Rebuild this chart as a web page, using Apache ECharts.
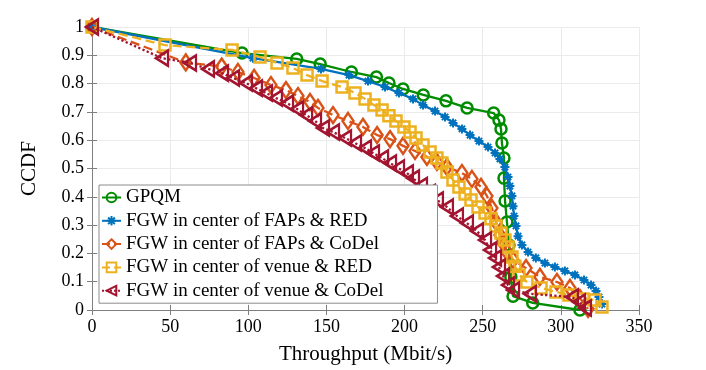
<!DOCTYPE html>
<html><head><meta charset="utf-8">
<script src="https://cdn.jsdelivr.net/npm/echarts@6/dist/echarts.min.js"></script>
<style>html,body{margin:0;padding:0;background:#fff}#c{width:706px;height:370px}</style>
</head><body><div id="c"></div>
<script>
const seriesNames = ['GPQM','FGW in center of FAPs & RED','FGW in center of FAPs & CoDel','FGW in center of venue & RED','FGW in center of venue & CoDel'];
const xTicks = [0,50,100,150,200,250,300,350];
const yTicks = [0,0.1,0.2,0.3,0.4,0.5,0.6,0.7,0.8,0.9,1];

const gpqm = [[0,1],[96,0.908],[131,0.887],[146,0.869],[166,0.841],[182,0.823],[190,0.802],[199,0.781],[212,0.760],[226.5,0.739],[240,0.714],[257,0.696],[260.4,0.671],[261.7,0.640],[262.3,0.590],[263.6,0.537],[263.6,0.466],[264.3,0.385],[265.5,0.311],[266.8,0.230],[268,0.117],[269.4,0.049],[282,0.025],[312.2,0.0]];

const fapsRed = [[0,1],[103,0.890],[146.5,0.852],[164.4,0.830],[176.6,0.809],[187.5,0.788],[196.4,0.767],[205.4,0.746],[211.8,0.724],[219.5,0.703],[225.9,0.682],[231,0.661],[236.7,0.640],[241.9,0.618],[247.6,0.597],[253.4,0.576],[257.9,0.555],[261,0.534],[264.2,0.505],[266.2,0.470],[267.4,0.438],[268.7,0.403],[269.4,0.367],[270,0.332],[271.3,0.297],[272.6,0.261],[275.1,0.230],[279,0.205],[284,0.184],[289.8,0.166],[296.2,0.152],[302.6,0.138],[309,0.124],[314.8,0.106],[319.3,0.088],[322.5,0.067],[324.4,0.046],[326.3,0.021]];

const fapsCodel = [[0,1],[60,0.875],[83,0.860],[93.4,0.841],[103.7,0.820],[114.5,0.795],[124.1,0.777],[131.8,0.756],[139.5,0.735],[144.6,0.714],[154.2,0.689],[163.8,0.668],[173.4,0.647],[182.4,0.618],[190.7,0.604],[199,0.580],[206.7,0.562],[214.3,0.541],[220.7,0.523],[227.1,0.505],[236.7,0.484],[243.1,0.463],[248.9,0.435],[252.7,0.403],[255.9,0.360],[258.5,0.311],[261,0.265],[263,0.237],[265.5,0.205],[269.4,0.177],[277.7,0.148],[286.6,0.117],[297.5,0.099],[305.8,0.078],[312.2,0.042],[317.4,0.004]];

const venueRed = [[0,1],[46.7,0.936],[89.6,0.919],[107.5,0.894],[118.4,0.873],[128.6,0.855],[137.6,0.830],[147.2,0.809],[160,0.788],[168.3,0.767],[174.7,0.746],[180.4,0.724],[185.6,0.707],[190,0.686],[194.5,0.668],[199.6,0.647],[203.5,0.629],[207.3,0.608],[211.8,0.583],[216.3,0.558],[220.7,0.537],[223.9,0.519],[227.1,0.488],[231,0.459],[234.8,0.435],[238.7,0.410],[242.5,0.389],[247,0.364],[251.5,0.343],[255.3,0.322],[258.5,0.297],[261.7,0.272],[264.2,0.247],[266.2,0.223],[268.7,0.187],[270.6,0.155],[273.2,0.124],[278.3,0.099],[287.3,0.078],[296.9,0.064],[305.2,0.053],[314.2,0.039],[321.8,0.035],[326.3,0.011]];

const venueCodel = [[0,1],[44.8,0.890],[62.7,0.873],[74.2,0.852],[83.2,0.837],[90.2,0.820],[98.5,0.802],[104.9,0.784],[111.3,0.767],[117.7,0.749],[124.8,0.731],[131.2,0.710],[137,0.689],[142.7,0.668],[147.8,0.643],[154.2,0.629],[161.9,0.608],[168.3,0.590],[174.7,0.572],[179.8,0.555],[185.6,0.537],[190.7,0.519],[195.8,0.502],[201.5,0.484],[205.4,0.466],[210.5,0.440],[215.6,0.415],[220.7,0.389],[227.1,0.364],[233.5,0.332],[239.9,0.307],[246.3,0.279],[251.5,0.247],[254.7,0.212],[257.9,0.184],[260.4,0.152],[263,0.120],[266.2,0.088],[269.4,0.071],[280.2,0.057],[307.1,0.046],[311.6,0.028],[315.4,0.007]];

const colors = ['#008C00','#0072BD','#D95319','#EDB120','#A2142F'];
const FONT = '"Liberation Serif","Times New Roman",serif';
const asterisk = 'path://M0,5L10,5M5,0L5,10M1.5,1.5L8.5,8.5M1.5,8.5L8.5,1.5';

function mk(i, data, symbol, size, lineType, extra) {
  return Object.assign({
    name: seriesNames[i], type: 'line', data: data,
    symbol: symbol, symbolSize: size, showAllSymbol: true,
    lineStyle: {color: colors[i], width: 2.3, type: lineType},
    itemStyle: {color: 'rgba(255,255,255,0)', borderColor: colors[i], borderWidth: 2.5},
    emphasis: {disabled: true}, animation: false, z: 2 + i
  }, extra || {});
}

const chart = echarts.init(document.getElementById('c'), null, {renderer: 'canvas'});
const axisCommon = {
  min: 0, axisLine: {show: true, lineStyle: {color: '#7f7f7f', width: 1}},
  axisTick: {show: true, inside: true, length: 5, lineStyle: {color: '#7f7f7f'}},
};
chart.setOption({
  animation: false,
  backgroundColor: '#fff',
  grid: {left: 92, right: 67, top: 27, bottom: 60, show: false},
  legend: {
    orient: 'vertical', left: 99, top: 185,
    data: seriesNames,
    itemWidth: 19, itemHeight: 12, itemGap: 2.3,
    padding: [2, 54, 2, 2],
    backgroundColor: '#fff', borderColor: '#8c8c8c', borderWidth: 1,
    textStyle: {fontFamily: FONT, fontSize: 19, color: '#000', lineHeight: 21},
    z: 20
  },
  xAxis: [
    Object.assign({}, axisCommon, {type: 'value', max: 350, interval: 50, position: 'bottom',
      name: 'Throughput (Mbit/s)', nameLocation: 'middle', nameGap: 34,
      nameTextStyle: {fontFamily: FONT, fontSize: 21, color: '#000'},
      axisLabel: {fontFamily: FONT, fontSize: 18, color: '#000', margin: 8,
        formatter: v => xTicks.indexOf(v) >= 0 ? String(v) : ''},
      splitLine: {show: true, lineStyle: {color: '#ebebeb', width: 1}}}),
    Object.assign({}, axisCommon, {type: 'value', max: 350, interval: 50, position: 'top',
      axisLabel: {show: false}, splitLine: {show: false}})
  ],
  yAxis: [
    Object.assign({}, axisCommon, {type: 'value', max: 1, interval: 0.1, position: 'left',
      name: 'CCDF', nameLocation: 'middle', nameGap: 52, nameRotate: 90,
      nameTextStyle: {fontFamily: FONT, fontSize: 21, color: '#000'},
      axisLabel: {fontFamily: FONT, fontSize: 18, color: '#000', margin: 8,
        formatter: v => { const t = yTicks.find(a => Math.abs(a - v) < 1e-6); return t === undefined ? '' : String(t); }},
      splitLine: {show: true, lineStyle: {color: '#ebebeb', width: 1}}}),
    Object.assign({}, axisCommon, {type: 'value', max: 1, interval: 0.1, position: 'right',
      axisLabel: {show: false}, splitLine: {show: false}})
  ],
  series: [
    mk(0, gpqm, 'circle', 11, 'solid'),
    mk(1, fapsRed, asterisk, 9, 'solid', {itemStyle: {color: colors[1], borderColor: colors[1], borderWidth: 2}}),
    mk(2, fapsCodel, 'diamond', [11, 16], 'dashed'),
    mk(3, venueRed, 'rect', 11, 'dashed'),
    mk(4, venueCodel, 'triangle', [15, 12], 'dotted', {symbolRotate: 90})
  ]
});
</script></body></html>
